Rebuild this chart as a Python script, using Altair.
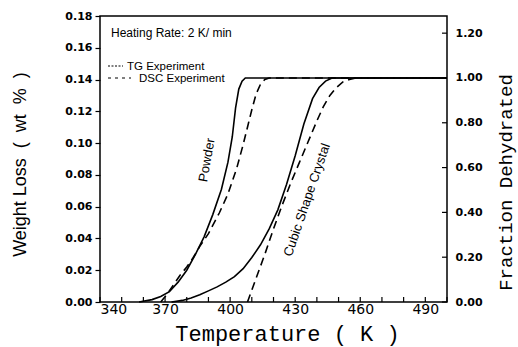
import altair as alt
import pandas as pd

# ---- data ----
temp_labels = [340, 370, 400, 430, 460, 490]
temp_minor = [340, 350, 360, 370, 380, 390, 400, 410, 420, 430, 440, 450, 460, 470, 480, 490, 500]
wt_ticks = [0.0, 0.02, 0.04, 0.06, 0.08, 0.10, 0.12, 0.14, 0.16, 0.18]
frac_ticks = [0.0, 0.2, 0.4, 0.6, 0.8, 1.0, 1.2]
wt_full = 0.141  # weight loss corresponding to fraction 1.00

powder_tg_T = [358, 364, 368, 372, 376, 380, 384, 388, 392, 396, 399, 401, 402.5, 404, 405.5, 407, 500]
powder_tg_w = [0, 0.0015, 0.0035, 0.0065, 0.0125, 0.020, 0.030, 0.041, 0.055, 0.071, 0.088, 0.104, 0.122, 0.134, 0.139, 0.141, 0.141]

powder_dsc_T = [368, 371, 374, 377, 380, 383, 386, 390, 395, 399, 403, 406, 408, 410, 412, 414, 416, 418, 500]
powder_dsc_w = [0, 0.005, 0.011, 0.017, 0.022, 0.028, 0.035, 0.043, 0.056, 0.068, 0.084, 0.099, 0.110, 0.121, 0.131, 0.137, 0.140, 0.141, 0.141]

cubic_tg_T = [373, 378, 382, 386, 390, 394, 398, 402, 406, 410, 414, 418, 422, 426, 430, 434, 438, 441, 444, 447, 500]
cubic_tg_w = [0, 0.001, 0.0025, 0.0045, 0.007, 0.0095, 0.0125, 0.016, 0.021, 0.028, 0.036, 0.046, 0.058, 0.074, 0.092, 0.112, 0.128, 0.135, 0.139, 0.141, 0.141]

cubic_dsc_T = [408, 412, 416, 420, 424, 428, 432, 436, 440, 443, 446, 449, 452, 455, 458, 500]
cubic_dsc_w = [0, 0.015, 0.030, 0.046, 0.061, 0.075, 0.088, 0.101, 0.114, 0.123, 0.130, 0.135, 0.1385, 0.140, 0.141, 0.141]

# ---- tables ----
def series(T, w, name):
    return pd.DataFrame({"T": T, "w": w, "sample": name})

tg = pd.concat([series(powder_tg_T, powder_tg_w, "Powder"),
                series(cubic_tg_T, cubic_tg_w, "Cubic")])
dsc = pd.concat([series(powder_dsc_T, powder_dsc_w, "Powder"),
                 series(cubic_dsc_T, cubic_dsc_w, "Cubic")])
minor_df = pd.DataFrame({"T": temp_minor})
frac_df = pd.DataFrame({"frac": frac_ticks})
one = pd.DataFrame({"a": [0]})

NB = "\u00a0"

x_scale = alt.Scale(domain=[340, 500], nice=False, zero=False)
y_scale = alt.Scale(domain=[0, 0.18], nice=False)
frac_scale = alt.Scale(domain=[0, 0.18 / wt_full], nice=False)

x_axis = alt.Axis(values=temp_labels, format="d", ticks=False, domain=False, grid=False,
                  labelFont="DejaVu Sans", labelFontSize=14, labelPadding=0,
                  title="Temperature ( K )", titleFont="Liberation Mono", titleFontSize=22,
                  titleFontWeight="normal", titleX=187, titleY=38, titleAlign="center",
                  titleBaseline="alphabetic")
y_axis = alt.Axis(values=wt_ticks, format=".2f", tickSize=5, tickWidth=1.2, domain=False, grid=False,
                  labelFont="DejaVu Sans", labelFontWeight="bold", labelFontSize=11, labelPadding=3,
                  title="Weight Loss" + NB * 2 + "(" + NB * 2 + "wt" + NB * 2 + "%" + NB * 2 + ")",
                  titleFont="Liberation Sans", titleFontSize=18,
                  titleFontWeight="normal", titleAngle=270, titleX=-80, titleY=148,
                  titleAlign="center", titleBaseline="middle")
r_axis = alt.Axis(orient="right", values=frac_ticks, format=".2f", ticks=False, domain=False, grid=False,
                  labelFont="DejaVu Sans", labelFontWeight="bold", labelFontSize=11, labelPadding=8,
                  title="Fraction Dehydrated", titleFont="Liberation Mono", titleFontSize=19,
                  titleFontWeight="normal", titleAngle=270, titleX=58, titleY=166,
                  titleAlign="center", titleBaseline="middle")

X = alt.X("T:Q", scale=x_scale, axis=x_axis)
Y = alt.Y("w:Q", scale=y_scale, axis=y_axis)

tg_lines = alt.Chart(tg).mark_line(color="black", strokeWidth=1.6).encode(x=X, y=Y, detail="sample:N")
dsc_lines = alt.Chart(dsc).mark_line(color="black", strokeWidth=1.6, strokeDash=[8, 5]).encode(
    x=X, y=Y, detail="sample:N")

minor = alt.Chart(minor_df).mark_rule(color="black", strokeWidth=1.2).encode(
    x=X, y=alt.value(286), y2=alt.value(281))

def txt(s, x, y, size=12, angle=0, align="left"):
    return alt.Chart(one).mark_text(text=s, font="Liberation Sans", fontSize=size, color="black",
                                    align=align, baseline="alphabetic", angle=angle).encode(
        x=alt.value(x), y=alt.value(y))

legend = (txt("Heating Rate: 2 K/ min", 11, 21, 12)
          + txt("TG Experiment", 27, 54, 11.5)
          + txt("DSC Experiment", 39, 66, 11.5)
          + alt.Chart(one).mark_rule(color="black", strokeWidth=1, strokeDash=[2, 1.5]).encode(
              x=alt.value(8), x2=alt.value(23), y=alt.value(50))
          + alt.Chart(one).mark_rule(color="black", strokeWidth=1, strokeDash=[3, 4]).encode(
              x=alt.value(8), x2=alt.value(31), y=alt.value(62)))

labels = (alt.Chart(one).mark_text(text="Powder", font="Liberation Sans", fontSize=13, color="black",
                                   angle=280, align="center", baseline="middle").encode(
              x=alt.value(107), y=alt.value(144))
          + alt.Chart(one).mark_text(text="Cubic Shape Crystal", font="Liberation Sans", fontSize=13,
                                     color="black", angle=289, align="center", baseline="middle").encode(
              x=alt.value(207), y=alt.value(184)))

left = alt.layer(tg_lines, dsc_lines, minor, legend, labels)

right = alt.Chart(frac_df).mark_rule(color="black", strokeWidth=1.2).encode(
    y=alt.Y("frac:Q", scale=frac_scale, axis=r_axis), x=alt.value(342), x2=alt.value(347))

chart = alt.layer(left, right).resolve_scale(y="independent").properties(
    width=347, height=286, autosize=alt.AutoSizeParams(type="none"),
    padding={"left": 100, "top": 16, "right": 71, "bottom": 45},
).configure_view(stroke="black", strokeWidth=1.5).configure_axis(
    labelColor="black", titleColor="black", tickColor="black")

chart.save("out.html", embed_options={"renderer": "svg", "actions": False})
